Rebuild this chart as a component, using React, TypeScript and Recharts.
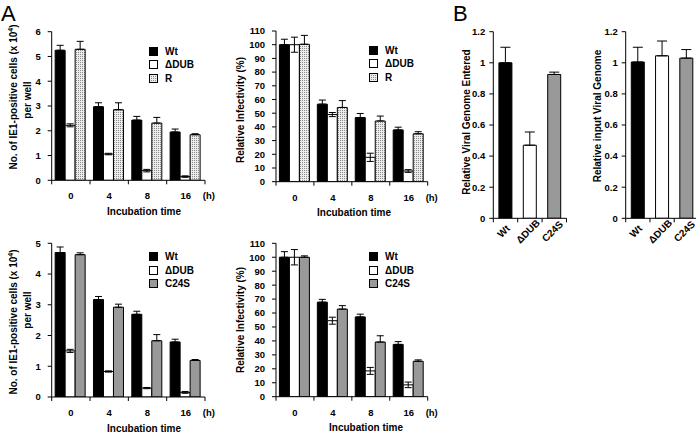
import React from 'react';
import { BarChart, Bar, XAxis, YAxis, ErrorBar, Legend, Cell } from 'recharts';

// ---------- data ----------
const timeLabels = ['0', '4', '8', '16'];
const strainLabels = ['Wt', 'ΔDUB', 'C24S'];

const a1Wt = [5.25, 2.97, 2.43, 1.95];
const a1WtErr = [0.2, 0.16, 0.15, 0.12];
const a1Dub = [2.22, 1.06, 0.39, 0.15];
const a1DubErr = [0.06, 0.03, 0.05, 0.03];
const a1R = [5.29, 2.85, 2.31, 1.84];
const a1RErr = [0.32, 0.28, 0.23, 0.04];

const a2Wt = [100, 56.6, 46.8, 37.8];
const a2WtErr = [4, 3, 3, 2];
const a2Dub = [100, 49, 17.8, 7.8];
const a2DubErr = [5.5, 1.5, 3, 1];
const a2R = [100.3, 54.2, 44.3, 35];
const a2RErr = [6.5, 5, 3.6, 1.5];

const a3Wt = [4.7, 3.17, 2.69, 1.79];
const a3WtErr = [0.18, 0.1, 0.1, 0.09];
const a3Dub = [1.5, 0.83, 0.29, 0.15];
const a3DubErr = [0.05, 0.02, 0.02, 0.03];
const a3C24S = [4.63, 2.92, 1.83, 1.19];
const a3C24SErr = [0.06, 0.1, 0.2, 0.03];

const a4Wt = [100, 67.8, 57.2, 37.5];
const a4WtErr = [4, 2, 2, 2];
const a4Dub = [100, 54.5, 18.5, 8.5];
const a4DubErr = [5.5, 2.5, 2.5, 2];
const a4C24S = [100, 62.8, 39.2, 25.4];
const a4C24SErr = [1, 2.5, 4.5, 1];

const b1Values = [1.0, 0.47, 0.925];
const b1Err = [0.1, 0.085, 0.015];
const b2Values = [1.005, 1.045, 1.03];
const b2Err = [0.095, 0.095, 0.055];

const countTicks = [0, 1, 2, 3, 4, 5, 6];
const countTicks5 = [0, 1, 2, 3, 4, 5];
const pctTicks = [0, 10, 20, 30, 40, 50, 60, 70, 80, 90, 100, 110];
const relTicks = [0, 0.2, 0.4, 0.6, 0.8, 1, 1.2];

// ---------- styling ----------
const FONT = '"Liberation Sans", Arial, Helvetica, sans-serif';
const BLACK = '#000000';
const WHITE = '#ffffff';
const GRAY = '#999999';
const DOTS = 'url(#dotsR)';

type SeriesDef = {
  key: string;
  name: string;
  values: number[];
  errors: number[];
  fill: string;
  symmetric?: boolean;
};

type TitleLine = { text: React.ReactNode; x: number; y: number };

type PanelProps = {
  box: { left: number; top: number; width: number; height: number };
  plot: { L: number; R: number; T: number; B: number };
  categories: string[];
  series: SeriesDef[];
  cellFills?: string[];
  domain: [number, number];
  yTicks: number[];
  gap: string;
  capWidth: number;
  yTickMargin: number;
  yTitle: TitleLine[];
  xTitle?: { text: string; x: number };
  unitLabel?: string;
  rotateTicks?: boolean;
  legend?: { x: number; y: number };
};

const LegendSwatch = ({ fill }: { fill: string }) => (
  <svg width={9} height={9} style={{ display: 'block' }}>
    <rect x={0.5} y={0.5} width={8} height={8} fill={fill} stroke={BLACK} strokeWidth={1} />
  </svg>
);

function Panel(props: PanelProps) {
  const {
    box, plot, categories, series, cellFills, domain, yTicks, gap, capWidth,
    yTickMargin, yTitle, xTitle, unitLabel, rotateTicks, legend,
  } = props;
  const ox = box.left;
  const oy = box.top;
  const margin = { top: plot.T - oy, left: 0, right: ox + box.width - plot.R, bottom: 0 };
  const yW = plot.L - ox;
  const xH = box.height - (plot.B - oy);
  const n = categories.length;
  const bw = (plot.R - plot.L) / n;

  const rows = categories.map((c, i) => {
    const r: Record<string, any> = { cat: c };
    series.forEach((s) => {
      r[s.key] = s.values[i];
      r[s.key + 'E'] = s.symmetric ? s.errors[i] : [0, s.errors[i]];
    });
    return r;
  });

  const textStyle = { fontFamily: FONT, fontWeight: 700, fill: BLACK } as const;

  const renderXTick = (p: any) => {
    const { x, y, payload, index } = p;
    return (
      <g>
        <line x1={x - bw / 2} y1={y} x2={x - bw / 2} y2={y + 4} stroke={BLACK} strokeWidth={1} />
        {index === n - 1 && (
          <line x1={x + bw / 2} y1={y} x2={x + bw / 2} y2={y + 4} stroke={BLACK} strokeWidth={1} />
        )}
        {rotateTicks ? (
          <text
            transform={`translate(${x - 2},${y + 13}) rotate(-45)`}
            textAnchor="middle"
            dominantBaseline="central"
            fontSize={10}
            {...textStyle}
          >
            {payload.value}
          </text>
        ) : (
          <text x={x} y={y + 19} textAnchor="middle" fontSize={9.5} {...textStyle}>
            {payload.value}
          </text>
        )}
        {!rotateTicks && unitLabel && index === n - 1 && (
          <text x={x + 23} y={y + 19} textAnchor="middle" fontSize={9.5} {...textStyle}>
            {unitLabel}
          </text>
        )}
      </g>
    );
  };

  const renderXTitle = () =>
    xTitle ? (
      <text x={xTitle.x - ox} y={plot.B - oy + 34.5} textAnchor="middle" fontSize={10} {...textStyle}>
        {xTitle.text}
      </text>
    ) : null;

  const renderYTitle = () => (
    <g>
      {yTitle.map((l, i) => (
        <text
          key={i}
          transform={`translate(${l.x - ox},${l.y - oy}) rotate(-90)`}
          textAnchor="middle"
          dominantBaseline="central"
          fontSize={10}
          {...textStyle}
        >
          {l.text}
        </text>
      ))}
    </g>
  );

  const renderLegend = () => (
    <div style={{ fontFamily: FONT, fontWeight: 700, fontSize: 10, color: BLACK }}>
      {series.map((s) => (
        <div key={s.key} style={{ display: 'flex', alignItems: 'center', height: 13.5 }}>
          <LegendSwatch fill={s.fill} />
          <span style={{ marginLeft: 7, lineHeight: '13.5px' }}>{s.name}</span>
        </div>
      ))}
    </div>
  );

  return (
    <div style={{ position: 'absolute', left: ox, top: oy }}>
      <BarChart
        width={box.width}
        height={box.height}
        data={rows}
        margin={margin}
        barCategoryGap={gap}
        barGap={0}
      >
        <XAxis
          dataKey="cat"
          height={xH}
          interval={0}
          tickLine={false}
          tickSize={0}
          tickMargin={0}
          axisLine={{ stroke: BLACK, strokeWidth: 1 }}
          tick={renderXTick}
          label={renderXTitle}
        />
        <YAxis
          type="number"
          width={yW}
          domain={domain}
          ticks={yTicks}
          interval={0}
          allowDataOverflow
          tickSize={4}
          tickMargin={yTickMargin}
          tickLine={{ stroke: BLACK, strokeWidth: 1 }}
          axisLine={{ stroke: BLACK, strokeWidth: 1 }}
          tick={{ fontSize: 9.5, fontWeight: 700, fill: BLACK, fontFamily: FONT }}
          label={renderYTitle}
        />
        {series.map((s) => (
          <Bar
            key={s.key}
            dataKey={s.key}
            name={s.name}
            fill={s.fill}
            stroke={BLACK}
            strokeWidth={1}
            isAnimationActive={false}
          >
            {cellFills && cellFills.map((f, i) => <Cell key={i} fill={f} />)}
            <ErrorBar
              dataKey={s.key + 'E'}
              width={capWidth}
              stroke={BLACK}
              strokeWidth={1}
              direction="y"
              isAnimationActive={false}
            />
          </Bar>
        ))}
        {legend && (
          <Legend
            layout="vertical"
            align="center"
            verticalAlign="middle"
            wrapperStyle={{ left: legend.x - ox, top: legend.y - oy, width: 70, height: 42 }}
            content={renderLegend}
          />
        )}
      </BarChart>
    </div>
  );
}

const cellsTitle = (
  <>
    No. of IE1-positive cells (x 10
    <tspan dy={-3} fontSize={7}>4</tspan>
    <tspan dy={3}>)</tspan>
  </>
);

export default function App() {
  const topSeries = (wt: number[], wtE: number[], dub: number[], dubE: number[], r: number[], rE: number[]): SeriesDef[] => [
    { key: 'wt', name: 'Wt', values: wt, errors: wtE, fill: BLACK },
    { key: 'dub', name: 'ΔDUB', values: dub, errors: dubE, fill: WHITE, symmetric: true },
    { key: 'r', name: 'R', values: r, errors: rE, fill: DOTS },
  ];
  const botSeries = (wt: number[], wtE: number[], dub: number[], dubE: number[], c: number[], cE: number[]): SeriesDef[] => [
    { key: 'wt', name: 'Wt', values: wt, errors: wtE, fill: BLACK },
    { key: 'dub', name: 'ΔDUB', values: dub, errors: dubE, fill: WHITE, symmetric: true },
    { key: 'c', name: 'C24S', values: c, errors: cE, fill: GRAY },
  ];

  return (
    <div
      style={{
        position: 'absolute',
        left: 0,
        top: 0,
        width: 696,
        height: 432,
        overflow: 'hidden',
        background: '#ffffff',
      }}
    >
      <svg width={696} height={432} style={{ position: 'absolute', left: 0, top: 0 }}>
        <defs>
          <pattern id="dotsR" width={2} height={2} patternUnits="userSpaceOnUse">
            <rect x={0} y={0} width={2} height={2} fill="#ececec" />
            <rect x={0} y={0} width={1} height={1} fill="#8a8a8a" />
          </pattern>
        </defs>
        <text x={1} y={21} fontSize={22} fontFamily={FONT} fill={BLACK}>A</text>
        <text x={453} y={21} fontSize={22} fontFamily={FONT} fill={BLACK}>B</text>
      </svg>

      <Panel
        box={{ left: 0, top: 0, width: 230, height: 222 }}
        plot={{ L: 51.7, R: 205, T: 31.7, B: 180.3 }}
        categories={timeLabels}
        series={topSeries(a1Wt, a1WtErr, a1Dub, a1DubErr, a1R, a1RErr)}
        domain={[0, 6]}
        yTicks={countTicks}
        gap="9%"
        capWidth={3.5}
        yTickMargin={7}
        yTitle={[
          { text: cellsTitle, x: 13, y: 97 },
          { text: 'per well', x: 27, y: 100 },
        ]}
        xTitle={{ text: 'Incubation time', x: 144 }}
        unitLabel="(h)"
        legend={{ x: 149, y: 44.5 }}
      />

      <Panel
        box={{ left: 230, top: 0, width: 230, height: 222 }}
        plot={{ L: 276, R: 427.7, T: 31, B: 181.7 }}
        categories={timeLabels}
        series={topSeries(a2Wt, a2WtErr, a2Dub, a2DubErr, a2R, a2RErr)}
        domain={[0, 110]}
        yTicks={pctTicks}
        gap="9%"
        capWidth={3.5}
        yTickMargin={7}
        yTitle={[{ text: 'Relative  Infectivity (%)', x: 240, y: 110 }]}
        xTitle={{ text: 'Incubation time', x: 354 }}
        unitLabel="(h)"
        legend={{ x: 369, y: 43.5 }}
      />

      <Panel
        box={{ left: 0, top: 222, width: 230, height: 210 }}
        plot={{ L: 51.7, R: 205, T: 243.3, B: 397 }}
        categories={timeLabels}
        series={botSeries(a3Wt, a3WtErr, a3Dub, a3DubErr, a3C24S, a3C24SErr)}
        domain={[0, 5]}
        yTicks={countTicks5}
        gap="9%"
        capWidth={3.5}
        yTickMargin={7}
        yTitle={[
          { text: cellsTitle, x: 13, y: 322 },
          { text: 'per well', x: 27, y: 310 },
        ]}
        xTitle={{ text: 'Incubation time', x: 144 }}
        unitLabel="(h)"
        legend={{ x: 149, y: 250 }}
      />

      <Panel
        box={{ left: 230, top: 222, width: 230, height: 210 }}
        plot={{ L: 276, R: 427.7, T: 243.3, B: 396.7 }}
        categories={timeLabels}
        series={botSeries(a4Wt, a4WtErr, a4Dub, a4DubErr, a4C24S, a4C24SErr)}
        domain={[0, 110]}
        yTicks={pctTicks}
        gap="9%"
        capWidth={3.5}
        yTickMargin={7}
        yTitle={[{ text: 'Relative  Infectivity (%)', x: 240, y: 320 }]}
        xTitle={{ text: 'Incubation time', x: 366 }}
        unitLabel="(h)"
        legend={{ x: 369, y: 250 }}
      />

      <Panel
        box={{ left: 460, top: 0, width: 120, height: 250 }}
        plot={{ L: 493.3, R: 566.5, T: 31.7, B: 218.3 }}
        categories={strainLabels}
        series={[{ key: 'v', name: 'Entered', values: b1Values, errors: b1Err, fill: BLACK }]}
        cellFills={[BLACK, WHITE, GRAY]}
        domain={[0, 1.2]}
        yTicks={relTicks}
        gap="23%"
        capWidth={5}
        yTickMargin={4}
        yTitle={[{ text: 'Relative Viral Genome Entered', x: 466, y: 122 }]}
        rotateTicks
      />

      <Panel
        box={{ left: 580, top: 0, width: 120, height: 250 }}
        plot={{ L: 625.7, R: 698.5, T: 31.7, B: 218.3 }}
        categories={strainLabels}
        series={[{ key: 'v', name: 'Input', values: b2Values, errors: b2Err, fill: BLACK }]}
        cellFills={[BLACK, WHITE, GRAY]}
        domain={[0, 1.2]}
        yTicks={relTicks}
        gap="23%"
        capWidth={5}
        yTickMargin={4}
        yTitle={[{ text: 'Relative input Viral Genome', x: 597, y: 116 }]}
        rotateTicks
      />
    </div>
  );
}
